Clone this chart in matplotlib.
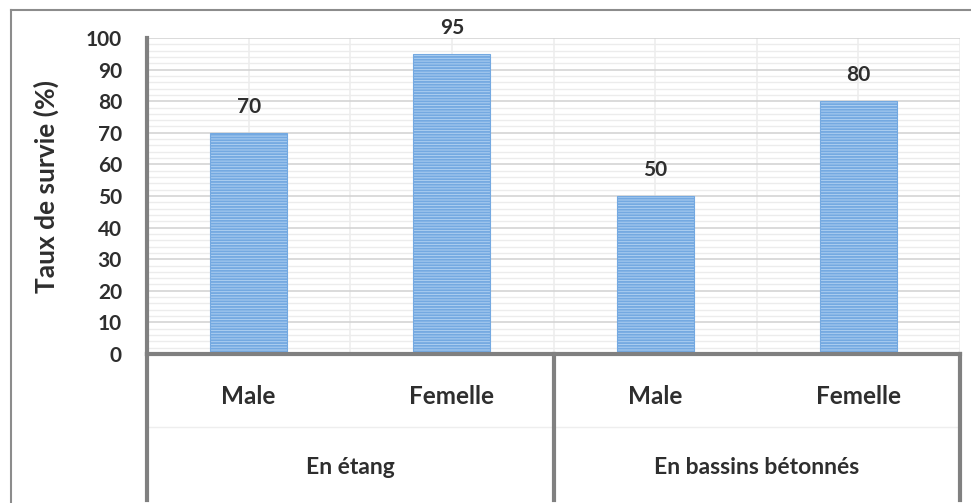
import numpy as np
import matplotlib.pyplot as plt
from matplotlib.lines import Line2D
import matplotlib.transforms as mtransforms

# données
groups = ["En étang", "En bassins bétonnés"]
sexes = ["Male", "Femelle", "Male", "Femelle"]
survie = [70, 95, 50, 80]

plt.rcParams['font.family'] = ['Lato', 'DejaVu Sans']
plt.rcParams['font.weight'] = 'bold'
plt.rcParams['hatch.linewidth'] = 1.3

W, H = 971, 503
fig = plt.figure(figsize=(W / 100, H / 100), dpi=100)
ax = fig.add_axes([147 / W, 1 - 354 / H, (960 - 147) / W, (354 - 38) / H])

x = np.arange(len(survie))
bars = ax.bar(x, survie, width=0.38, facecolor='#aecff1', edgecolor='#74a9e1',
              hatch='------', linewidth=0.8, zorder=3)

txt = '#2e2e2e'
# étiquettes de valeurs
for xi, v in zip(x, survie):
    ax.text(xi, v + 5, f"{v}", ha='center', va='bottom', fontsize=15,
            fontweight='bold', color=txt, zorder=4)

ax.set_xlim(-0.5, len(survie) - 0.5)
ax.set_ylim(0, 100)
ax.set_yticks(np.arange(0, 101, 10))
ax.set_yticks(np.arange(0, 101, 2), minor=True)
ax.set_xticks(np.arange(-0.5, len(survie), 0.5))
ax.set_xticklabels([])
ax.tick_params(axis='both', which='both', length=0)
ax.tick_params(axis='y', labelsize=15, labelcolor=txt, pad=18)
for lab in ax.get_yticklabels():
    lab.set_fontweight('bold')

# grilles
ax.grid(axis='y', which='major', color='#d4d4d4', linewidth=1.2, zorder=0)
ax.grid(axis='y', which='minor', color='#ececec', linewidth=1.0, zorder=0)
ax.grid(axis='x', which='major', color='#eeeeee', linewidth=1.2, zorder=0)
ax.set_axisbelow(True)

for s in ['top', 'right']:
    ax.spines[s].set_visible(False)
for s in ['left', 'bottom']:
    ax.spines[s].set_color('#808080')
    ax.spines[s].set_linewidth(3)
ax.spines['bottom'].set_zorder(5)

# axe des catégories à deux niveaux
trans = mtransforms.blended_transform_factory(ax.transData, fig.transFigure)
y_sex = 1 - 397 / H
y_grp = 1 - 468 / H
y_bot = 1 - 500 / H
y_ax = 1 - 354 / H
for xi, s in zip(x, sexes):
    ax.text(xi, y_sex, s, transform=trans, ha='center', va='center',
            fontsize=17.5, fontweight='bold', color=txt)
n = len(sexes) // len(groups)
for gi, g in enumerate(groups):
    xc = gi * n + (n - 1) / 2
    ax.text(xc, y_grp, g, transform=trans, ha='center', va='center',
            fontsize=16.5, fontweight='bold', color=txt)
for xb in np.arange(-0.5, len(survie), n):
    ax.add_line(Line2D([xb, xb], [y_bot, y_ax], transform=trans, color='#808080',
                       linewidth=3, clip_on=False))
ax.add_line(Line2D([-0.5, len(survie) - 0.5], [1 - 427 / H] * 2, transform=trans,
                   color='#eeeeee', linewidth=1, clip_on=False, zorder=0))

fig.text(46 / W, 1 - 186 / H, "Taux de survie (%)", rotation=90, ha='center',
         va='center', fontsize=19, fontweight='bold', color=txt)

# cadre extérieur
fig.add_artist(Line2D([11 / W, 11 / W], [0, 1 - 10 / H], color='#8c8c8c', linewidth=1.5))
fig.add_artist(Line2D([11 / W, 1], [1 - 10 / H, 1 - 10 / H], color='#8c8c8c', linewidth=1.5))

fig.savefig('out.png', dpi=100, facecolor='white')
